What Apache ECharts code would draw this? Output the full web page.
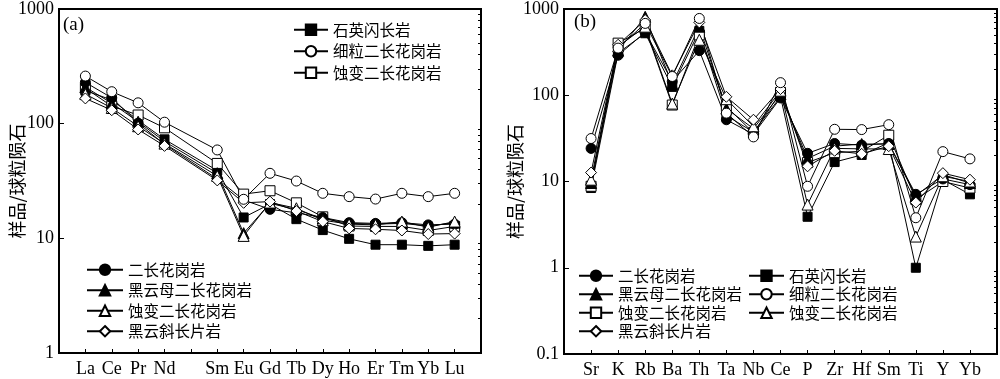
<!DOCTYPE html>
<html><head><meta charset="utf-8">
<script src="https://cdn.jsdelivr.net/npm/echarts@6/dist/echarts.min.js"></script>
<style>html,body{margin:0;padding:0;background:#fff}#c{width:1000px;height:379px}</style>
</head><body><div id="c"></div>
<script>
// ---------- categories & ticks ----------
const reeCats = ['', 'La','Ce','Pr','Nd','','Sm','Eu','Gd','Tb','Dy','Ho','Er','Tm','Yb','Lu',''];
const spiderCats = ['', 'Sr','K','Rb','Ba','Th','Ta','Nb','Ce','P','Zr','Hf','Sm','Ti','Y','Yb',''];
const yMajorA = [1, 10, 100, 1000];
const yMinorA = [2,3,4,5,6,7,8,9,20,30,40,50,60,70,80,90,200,300,400,500,600,700,800,900];
const yMajorB = [0.1, 1, 10, 100, 1000];
const yMinorB = [0.2,0.3,0.4,0.5,0.6,0.7,0.8,0.9,2,3,4,5,6,7,8,9,20,30,40,50,60,70,80,90,200,300,400,500,600,700,800,900];

// ---------- series names ----------
const nQD = '石英闪长岩';
const nFG = '细粒二长花岗岩';
const nAS = '蚀变二长花岗岩';
const nMG = '二长花岗岩';
const nBG = '黑云母二长花岗岩';
const nAT = '蚀变二长花岗岩|2';
const nBS = '黑云斜长片岩';

// ---------- (a) REE, chondrite normalised: La Ce Pr Nd (gap) Sm Eu Gd Tb Dy Ho Er Tm Yb Lu ----------
const reeQD = [194,161,107,73,null,39,15.2,19.9,14.7,11.8,9.9,8.8,8.8,8.6,8.8];
const reeFG = [260,190,152,103,null,59,21.9,36.9,31.6,24.7,23.1,22,24.7,23.1,24.7];
const reeAS = [204,142,119,92,null,45,24.3,26,20.4,15.4,12.8,12.7,12.7,11.7,12.7];
const reeMG = [229,168,101,66,null,33,21.6,17.9,16.7,15.2,13.7,13.5,13.7,13.1,13.3];
const reeBG = [208,151,104,70,null,37,11.1,20.2,17.8,14.9,13.5,13.3,13.5,12.8,13.7];
const reeAT = [181,137,95,67,null,35,10.5,20.5,18.3,14.4,13.3,13.1,14,12.5,14];
const reeBS = [166,131,89,64,null,32,20.4,20.9,17.3,14,12.2,12,11.7,10.9,11];

// ---------- (b) spider: Sr K Rb Ba Th Ta Nb Ce P Zr Hf Sm Ti Y Yb ----------
const spQD = [8.4,309,523,125,557,58,37.5,96,3.9,16.8,20.3,28.1,1.0,10.5,7.1];
const spFG = [31.5,352,681,165,777,62,32.9,140,8.8,40.3,40,45.6,3.8,22.2,18.3];
const spAS = [8.8,402,597,77,501,74,36.6,108,16.6,21.6,22.4,34.4,6.2,10,8.4];
const spMG = [24.2,291,537,145,329,52,35.3,93,21.2,27.6,26.4,27.6,7.1,10.7,9.2];
const spBG = [9.6,329,812,135,624,70,41,103,18.5,25.7,27.2,27.2,6.8,12,9.6];
const spAT = [10.5,368,624,80,440,90,43.6,113,5.4,24.2,23.9,23.8,2.3,11.5,10];
const spBS = [12.7,385,745,170,699,96,52,118,15,22.7,20.9,25.7,5.7,12.5,10.5];

// ---------- styles ----------
const markers = {};
markers[nQD] = {symbol:'rect', size:9, fill:'#000'};
markers[nFG] = {symbol:'circle', size:10, fill:'#fff'};
markers[nAS] = {symbol:'rect', size:10, fill:'#fff'};
markers[nMG] = {symbol:'circle', size:10, fill:'#000'};
markers[nBG] = {symbol:'triangle', size:11, fill:'#000'};
markers[nAT] = {symbol:'triangle', size:11, fill:'#fff'};
markers[nBS] = {symbol:'diamond', size:11, fill:'#fff'};

const serifFont = '"Liberation Serif", "Times New Roman", serif';
const cjkFont = '"Noto Sans CJK SC", sans-serif';

function pad(arr) { return [null].concat(arr, [null]); }

function mkSeries(name, data, gi) {
  const m = markers[name];
  return {
    type: 'line', name: name, xAxisIndex: gi, yAxisIndex: gi * 2,
    data: pad(data), connectNulls: true,
    symbol: m.symbol, symbolSize: m.size, showSymbol: true,
    lineStyle: {color: '#000', width: 1},
    itemStyle: {color: m.fill, borderColor: '#000', borderWidth: 1},
    emphasis: {disabled: true}, silent: true
  };
}

function xAxis(gi, cats) {
  return {
    type: 'category', gridIndex: gi, data: cats, boundaryGap: false,
    axisLine: {show: true, lineStyle: {color: '#000', width: 2}},
    axisTick: {show: true, inside: true, length: 4, interval: 0, lineStyle: {color: '#000', width: 1}},
    axisLabel: {interval: 0, color: '#000', fontSize: 18, fontFamily: serifFont, margin: 7},
    splitLine: {show: false}
  };
}

function yAxes(gi, min, max, major, minor, nameGap) {
  return [{
    type: 'log', logBase: 10, gridIndex: gi, min: min, max: max,
    axisLine: {show: true, lineStyle: {color: '#000', width: 2}},
    axisTick: {show: true, inside: true, length: 5, customValues: major, lineStyle: {color: '#000', width: 1}},
    axisLabel: {color: '#000', fontSize: 18, fontFamily: serifFont, margin: 5, customValues: major,
      formatter: v => String(v)},
    splitLine: {show: false},
    name: '样品/球粒陨石', nameLocation: 'middle', nameGap: nameGap, nameMoveOverlap: false,
    nameTextStyle: {color: '#000', fontSize: 18, fontFamily: cjkFont}
  }, {
    type: 'log', logBase: 10, gridIndex: gi, min: min, max: max,
    axisLine: {show: false},
    axisTick: {show: true, inside: true, length: 3, customValues: minor, lineStyle: {color: '#000', width: 1}},
    axisLabel: {show: false},
    splitLine: {show: false}
  }];
}

function legend(left, top, names, itemWidth, gap) {
  return {
    orient: 'vertical', left: left, top: top, data: names,
    itemWidth: itemWidth, itemHeight: 13, itemGap: gap,
    selectedMode: false, padding: 0,
    textStyle: {color: '#000', fontSize: 15.5, fontFamily: cjkFont},
    formatter: n => n.split('|')[0]
  };
}

const option = {
  animation: false,
  backgroundColor: '#fff',
  title: [
    {text: '(a)', left: 63, top: 16, padding: 0, textStyle: {fontSize: 19, fontWeight: 'normal', fontFamily: serifFont, color: '#000'}},
    {text: '(b)', left: 574, top: 13, padding: 0, textStyle: {fontSize: 19, fontWeight: 'normal', fontFamily: serifFont, color: '#000'}}
  ],
  grid: [
    {left: 59, top: 9, width: 422, height: 344, show: true, borderColor: '#000', borderWidth: 2, backgroundColor: 'transparent'},
    {left: 564, top: 7, width: 435, height: 350, show: true, borderColor: '#000', borderWidth: 2, backgroundColor: 'transparent'}
  ],
  xAxis: [xAxis(0, reeCats), xAxis(1, spiderCats)],
  yAxis: yAxes(0, 1, 1000, yMajorA, yMinorA, 33).concat(yAxes(1, 0.1, 1000, yMajorB, yMinorB, 40)),
  legend: [
    legend(293, 22, [nQD, nFG, nAS], 34, 6),
    legend(86, 262, [nMG, nBG, nAT, nBS], 36, 5),
    legend(578, 268, [nMG, nBG, nAS, nBS], 34, 3),
    legend(748, 268, [nQD, nFG, nAT], 35, 3)
  ],
  series: [
    mkSeries(nQD, reeQD, 0), mkSeries(nAS, reeAS, 0), mkSeries(nMG, reeMG, 0),
    mkSeries(nBG, reeBG, 0), mkSeries(nAT, reeAT, 0), mkSeries(nBS, reeBS, 0), mkSeries(nFG, reeFG, 0),
    mkSeries(nQD, spQD, 1), mkSeries(nAS, spAS, 1), mkSeries(nMG, spMG, 1),
    mkSeries(nBG, spBG, 1), mkSeries(nAT, spAT, 1), mkSeries(nBS, spBS, 1), mkSeries(nFG, spFG, 1)
  ]
};

const chart = echarts.init(document.getElementById('c'), null, {renderer: 'canvas'});
chart.setOption(option);
</script>
</body></html>
